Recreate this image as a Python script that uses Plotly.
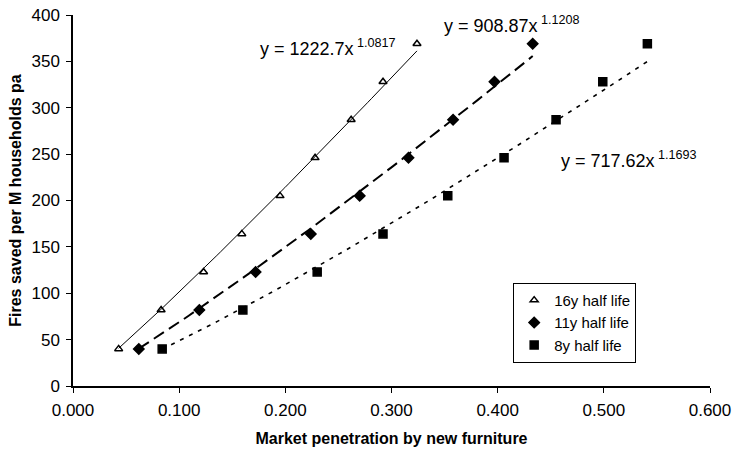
import numpy as np
import plotly.graph_objects as go

# ---- data ----
fires_saved = [40, 82, 123, 164, 205, 246, 287, 328, 369]
pen_16y = [0.043, 0.083, 0.123, 0.159, 0.195, 0.228, 0.262, 0.292, 0.324]
pen_11y = [0.062, 0.119, 0.172, 0.224, 0.270, 0.316, 0.358, 0.397, 0.433]
pen_8y = [0.084, 0.160, 0.230, 0.292, 0.353, 0.406, 0.455, 0.499, 0.541]

series_names = ["16y half life", "11y half life", "8y half life"]
fit_coef = [1222.7, 908.87, 717.62]
fit_exp = [1.0817, 1.1208, 1.1693]
fit_labels = ["y = 1222.7x<sup> 1.0817</sup>", "y = 908.87x<sup> 1.1208</sup>", "y = 717.62x<sup> 1.1693</sup>"]

x_ticks = [0.0, 0.1, 0.2, 0.3, 0.4, 0.5, 0.6]
y_ticks = [0, 50, 100, 150, 200, 250, 300, 350, 400]

FONT = "Liberation Sans, Arial, sans-serif"

xs_all = [pen_16y, pen_11y, pen_8y]
symbols = ["triangle-up-open", "diamond", "square"]
msizes = [7, 8, 8]
dashes = ["solid", "12px,6px", "4px,6px"]
widths = [1, 2, 1.6]

fig = go.Figure()
for xs, name, a, b, dash, w in zip(xs_all, series_names, fit_coef, fit_exp, dashes, widths):
    xf = np.linspace(xs[0], xs[-1], 80)
    fig.add_trace(go.Scatter(x=xf, y=a * xf ** b, mode="lines",
                             line=dict(color="black", width=w, dash=dash),
                             showlegend=False, hoverinfo="skip"))

for xs, name, sym, ms in zip(xs_all, series_names, symbols, msizes):
    fig.add_trace(go.Scatter(x=xs, y=fires_saved, mode="markers", name=name,
                             marker=dict(symbol=sym, size=ms, color="black",
                                         line=dict(color="black", width=1.5))))

ann_pos = [(0.174, 365), (0.3475, 390), (0.4576, 244)]
for (ax, ay), txt in zip(ann_pos, fit_labels):
    fig.add_annotation(x=ax, y=ay, xref="x", yref="y", text=txt, showarrow=False,
                       xanchor="left", yanchor="middle",
                       font=dict(family=FONT, size=18, color="black"))

fig.update_layout(
    width=734, height=452,
    margin=dict(l=73, r=24, t=15, b=66, autoexpand=False),
    plot_bgcolor="white", paper_bgcolor="white",
    font=dict(family=FONT, size=17, color="black"),
    legend=dict(x=0.691, y=0.278, xanchor="left", yanchor="top",
                bgcolor="white", bordercolor="black", borderwidth=1,
                font=dict(family=FONT, size=15, color="black"),
                itemwidth=30, tracegroupgap=0),
)
fig.update_xaxes(range=[0, 0.6], tickvals=x_ticks, tickformat=".3f",
                 showline=True, linecolor="black", linewidth=1.5,
                 ticks="outside", ticklen=5, tickcolor="black",
                 ticklabelstandoff=3,
                 showgrid=False, zeroline=False, automargin=False,
                 title=dict(text="<b>Market penetration by new furniture</b>",
                            font=dict(family=FONT, size=16), standoff=14))
fig.update_yaxes(range=[0, 400], tickvals=y_ticks,
                 showline=True, linecolor="black", linewidth=1.5,
                 ticks="outside", ticklen=5, tickcolor="black",
                 ticklabelstandoff=3,
                 showgrid=False, zeroline=False, automargin=False,
                 title=dict(text="<b>Fires saved per M households pa</b>",
                            font=dict(family=FONT, size=16), standoff=6))

# remove the browser's default 8px body margin so the figure fills the window
fig.write_html("out.html", config={"displayModeBar": False},
               post_script="document.body.style.margin='0';document.body.style.overflow='hidden';")
